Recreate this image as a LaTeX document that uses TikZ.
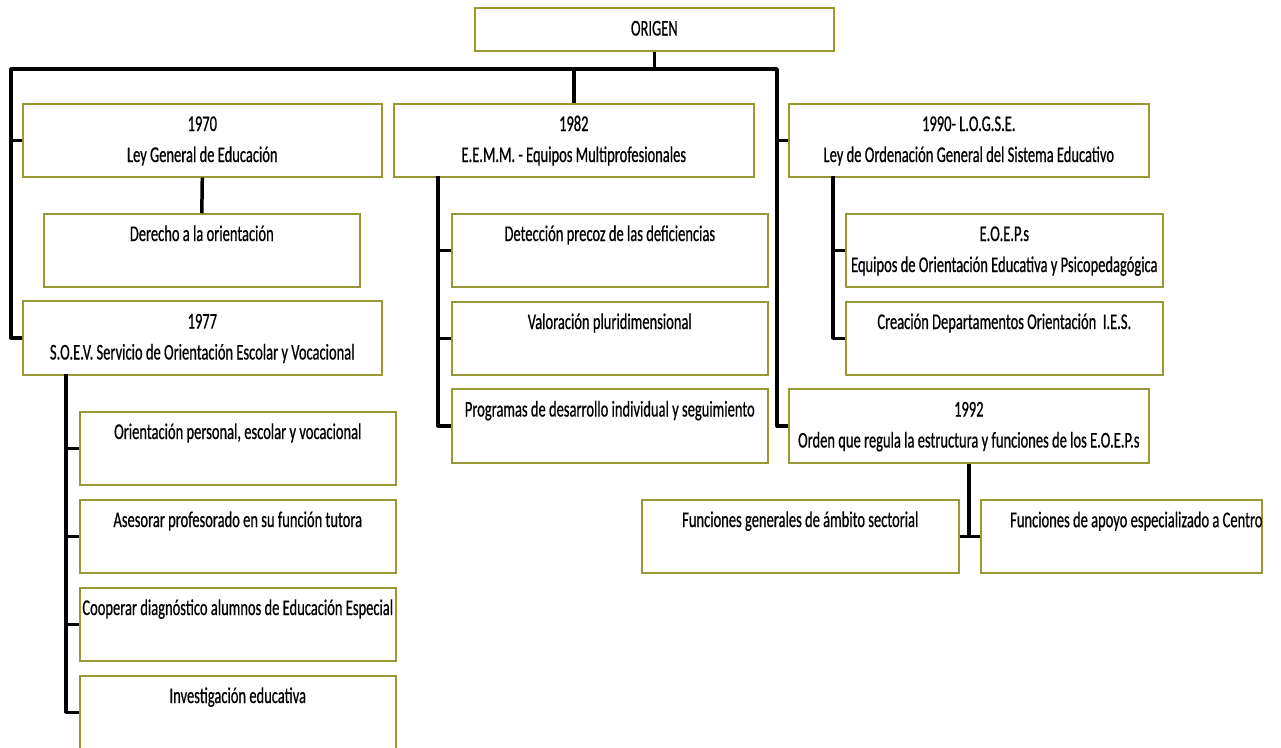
\documentclass[tikz,border=0pt]{standalone}
\usepackage{fontspec}
\setmainfont[FakeStretch=0.645,FakeBold=0.6]{Carlito}
\definecolor{olive}{RGB}{153,153,51}
\tikzset{
  box/.style={draw=olive, line width=1.6pt, fill=white, inner sep=0pt, anchor=north west,
    align=center, font=\fontsize{22.5}{31}\selectfont},
  conn/.style={draw=black, line width=3.5pt, line join=round}
}
\newcommand{\bx}[6]{\node[box, minimum width=#4-#2, minimum height=#5-#3] (#1) at (#2,#3) {#6};}
\begin{document}
\begin{tikzpicture}[x=1pt,y=-1pt]
\clip (0,0) rectangle (1281,747);
\fill[white] (0,0) rectangle (1281,747);
% boxes
\bx{origen}{474}{7}{833}{50}{\strut ORIGEN}
\bx{b1970}{22}{103}{381}{176}{\strut 1970\\\strut Ley General de Educación}
\bx{derecho}{43}{213}{359}{286}{\strut Derecho a la orientación\\\strut}
\bx{b1977}{22}{300}{381}{374}{\strut 1977\\\strut S.O.E.V. Servicio de Orientación Escolar y Vocacional}
\bx{o1}{79}{411}{395}{484}{\strut Orientación personal, escolar y vocacional\\\strut}
\bx{o2}{79}{499}{395}{572}{\strut Asesorar profesorado en su función tutora\\\strut}
\bx{o3}{79}{587}{395}{660}{\strut Cooperar diagnóstico alumnos de Educación Especial\\\strut}
\bx{o4}{79}{675}{395}{748}{\strut Investigación educativa\\\strut}
\bx{b1982}{393}{103}{753}{176}{\strut 1982\\\strut E.E.M.M. - Equipos Multiprofesionales}
\bx{d1}{451}{213}{767}{286}{\strut Detección precoz de las deficiencias\\\strut}
\bx{d2}{451}{301}{767}{374}{\strut Valoración pluridimensional\\\strut}
\bx{d3}{451}{388}{767}{462}{\strut Programas de desarrollo individual y seguimiento\\\strut}
\bx{b1990}{788}{103}{1148}{176}{\strut 1990- L.O.G.S.E.\\\strut Ley de Ordenación General del Sistema Educativo}
\bx{e1}{845}{213}{1162}{286}{\strut E.O.E.P.s\\\strut Equipos de Orientación Educativa y Psicopedagógica}
\bx{e2}{845}{301}{1162}{374}{\strut Creación Departamentos Orientación\ \ I.E.S.\\\strut}
\bx{b1992}{788}{388}{1148}{462}{\strut 1992\\\strut Orden que regula la estructura y funciones de los E.O.E.P.s}
\bx{f1}{641}{499}{958}{572}{\strut Funciones generales de ámbito sectorial\\\strut}
\bx{f2}{980}{499}{1261}{572}{}
\begin{scope}
  \clip (f2.north west) rectangle (f2.south east);
  \node[anchor=west, inner sep=0pt, font=\fontsize{22.5}{31}\selectfont] (f2t) at (1010,521) {\strut Funciones de apoyo especializado a Centros};
\end{scope}
% connectors
\coordinate (busL) at (11,69);
\coordinate (busR) at (777,69);
\coordinate (c77) at (66,374);
\coordinate (c82) at (438,176);
\coordinate (c90) at (833,176);
\draw[conn] (b1977.west) -| (busL) -- (busR) |- (b1992.west);
\draw[conn] (b1970.west) -- (b1970.west -| busL);
\draw[conn] (b1990.west) -- (b1990.west -| busR);
\draw[conn] (origen.south) -- (origen.south |- busL);
\draw[conn] (b1982.north) -- (b1982.north |- busL);
\draw[conn] (b1970.south) -- (derecho.north);
\draw[conn] (c77) |- (o4.west);
\draw[conn] (o1.west) -- (o1.west -| c77);
\draw[conn] (o2.west) -- (o2.west -| c77);
\draw[conn] (o3.west) -- (o3.west -| c77);
\draw[conn] (c82) |- (d3.west);
\draw[conn] (d1.west) -- (d1.west -| c82);
\draw[conn] (d2.west) -- (d2.west -| c82);
\draw[conn] (c90) |- (e2.west);
\draw[conn] (e1.west) -- (e1.west -| c90);
\draw[conn] (b1992.south) -- (b1992.south |- f1.east);
\draw[conn] (f1.east) -- (f2.west);
\end{tikzpicture}
\end{document}
